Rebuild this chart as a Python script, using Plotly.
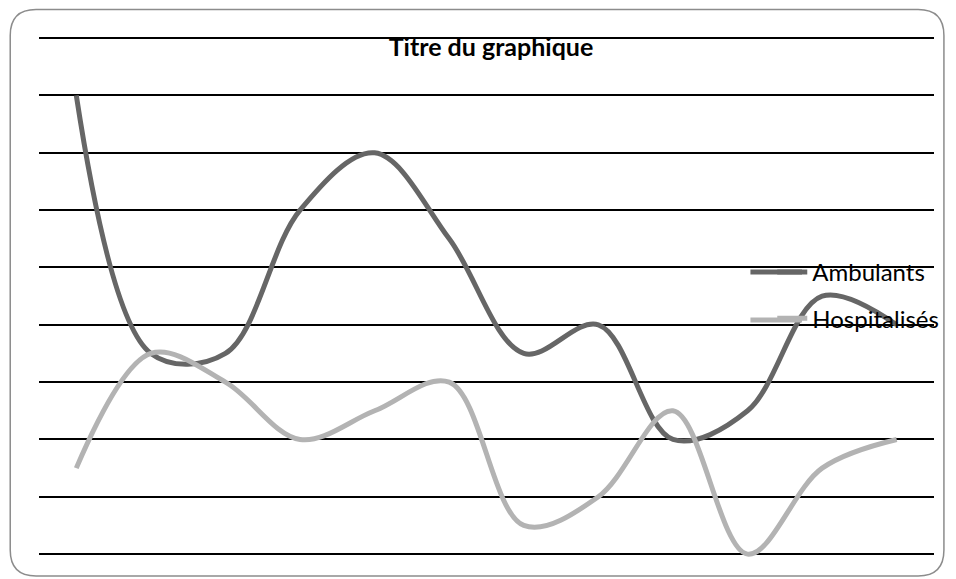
import plotly.graph_objects as go

# ---- data ----
categories = ["1", "2", "3", "4", "5", "6", "7", "8", "9", "10", "11", "12"]
ambulants = [8, 3.5, 3.5, 6, 7, 5.5, 3.5, 4, 2, 2.5, 4.5, 4]
hospitalises = [1.5, 3.5, 3, 2, 2.5, 3, 0.5, 1, 2.5, 0, 1.5, 2]
series_names = ["Ambulants", "Hospitalisés"]
series_colors = ["#666666", "#b3b3b3"]
title_text = "Titre du graphique"

# the page body adds an 8px margin; lay out in reference pixels shifted by it
OFF = 8
W, H = 956 - OFF, 579 - OFF
ML, MR, MT, MB = 39 - OFF, 15, 37 - OFF, 18
FONT = "Lato, 'Open Sans', sans-serif"

fig = go.Figure()
for name, vals, col in zip(series_names, [ambulants, hospitalises], series_colors):
    fig.add_trace(go.Scatter(
        x=categories, y=vals, name=name, mode="lines",
        line=dict(color=col, width=5, shape="spline", smoothing=1.0),
        legendgroup=name,
    ))

pw = W - ML - MR
ph = H - MT - MB
def px(x):  # reference pixel -> paper
    return (x - OFF - ML) / pw
def py(y):
    return (H - MB - (y - OFF)) / ph

x0, x1, y0, y1, r = 10, 951, 9.5, 576, 26
path = (
    f"M {px(x0+r)},{py(y0)} L {px(x1-r)},{py(y0)} "
    f"Q {px(x1)},{py(y0)} {px(x1)},{py(y0+r)} "
    f"L {px(x1)},{py(y1-r)} Q {px(x1)},{py(y1)} {px(x1-r)},{py(y1)} "
    f"L {px(x0+r)},{py(y1)} Q {px(x0)},{py(y1)} {px(x0)},{py(y1-r)} "
    f"L {px(x0)},{py(y0+r)} Q {px(x0)},{py(y0)} {px(x0+r)},{py(y0)} Z"
)
fig.add_shape(type="path", path=path, xref="paper", yref="paper",
              line=dict(color="#8c8c8c", width=1.5), layer="below")

# longer legend key lines, as in the reference legend
for yk, col in zip([272, 320], series_colors):
    fig.add_shape(type="line", xref="paper", yref="paper",
                  x0=px(756), x1=px(808), y0=py(yk), y1=py(yk),
                  line=dict(color=col, width=5), layer="above")

fig.update_layout(
    width=W, height=H,
    margin=dict(l=ML, r=MR, t=MT, b=MB),
    paper_bgcolor="white", plot_bgcolor="white",
    title=dict(text=f"<b>{title_text}</b>", x=(491 - OFF) / W, xref="container",
               y=1 - (47 - OFF) / H, yref="container", xanchor="center", yanchor="middle",
               font=dict(family=FONT, size=25, color="black")),
    xaxis=dict(type="category", range=[-0.5, 11.5], showgrid=False,
               showticklabels=False, zeroline=False, showline=False, ticks=""),
    yaxis=dict(range=[-0.12, 9.02], dtick=1, tick0=0, showgrid=True,
               gridcolor="black", gridwidth=2, showticklabels=False,
               zeroline=True, zerolinecolor="black", zerolinewidth=2,
               showline=False, ticks=""),
    showlegend=True,
    legend=dict(x=px(778), y=py(250), xanchor="left", yanchor="top",
                bgcolor="rgba(0,0,0,0)", borderwidth=0,
                font=dict(family=FONT, size=24, color="black"),
                tracegroupgap=12, itemwidth=30),
)

fig.write_html("out.html")
